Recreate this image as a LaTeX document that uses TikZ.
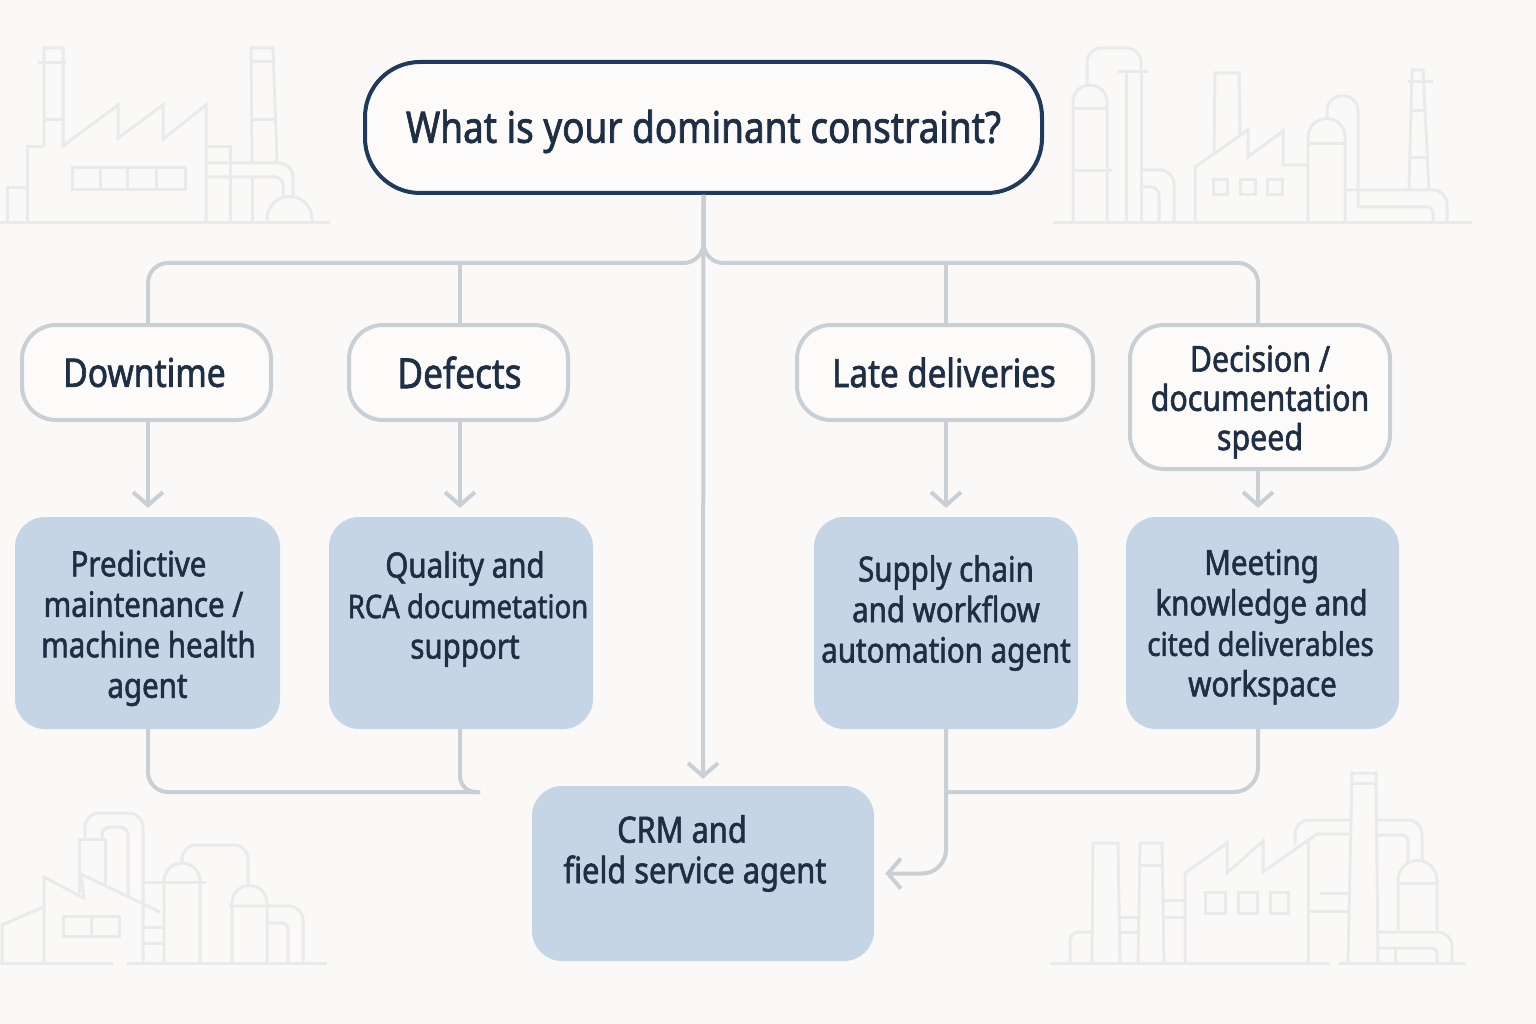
\documentclass[tikz,border=0pt]{standalone}
\usepackage{fontspec}
\setmainfont{Noto Sans}[FakeBold=1.6,FakeStretch=0.85]
\usetikzlibrary{arrows.meta,calc}
\definecolor{paper}{HTML}{FAF9F7}
\definecolor{navy}{HTML}{1F3A5C}
\definecolor{ink}{HTML}{1E2F45}
\definecolor{linegray}{HTML}{C9D0D5}
\definecolor{blueface}{HTML}{C5D5E5}
\definecolor{sketch}{HTML}{E9EAEA}
\definecolor{whiteface}{HTML}{FCFBFA}
\newcommand{\Ln}[2]{\mbox{\kern#1pt #2\kern-#1pt}}
\newcommand{\Sz}[1]{\fontsize{#1}{40}\selectfont}
\tikzset{
  x=1pt,y=-1pt,
  sk/.style={draw=sketch,line width=3pt,rounded corners=0pt,line join=miter},
  skr/.style={sk,rounded corners=14pt},
  titlebox/.style={draw=navy,line width=4pt,fill=whiteface,rounded corners=55pt,inner sep=0pt},
  askbox/.style={draw=linegray,line width=4pt,fill=whiteface,rounded corners=34pt,inner sep=0pt},
  agentbox/.style={fill=blueface,rounded corners=30pt,inner sep=0pt},
  agenttext/.style={text=ink,align=center,font=\fontsize{34.7}{40.5}\selectfont,inner sep=0pt},
  conn/.style={draw=linegray,line width=4pt,rounded corners=20pt},
  arr/.style={conn,-{Straight Barb[length=13pt,width=30pt,line width=4pt]}},
}
\begin{document}
\begin{tikzpicture}
\useasboundingbox (0,0) rectangle (1536,1024);
\fill[paper] (0,0) rectangle (1536,1024);

% factory top left
\draw[sk] (0,223) -- (330,223);
\draw[sk] (7,223) -- (7,188) -- (27,188);
\draw[sk] (27,223) -- (27,147) -- (44,147);
\draw[sk] (44,146) -- (44,48) -- (63,48) -- (63,146) -- (118,105) -- (118,138) -- (163,105) -- (163,139) -- (206,105) -- (206,223);
\draw[sk] (38,63) -- (66,63) (44,120) -- (63,120);
\draw[sk] (72,168) rectangle (185,190) (100,168) -- (100,190) (127,168) -- (127,190) (156,168) -- (156,190);
\draw[sk] (206,147) -- (230,147) -- (230,223);
\draw[sk] (252,163) -- (251,48) -- (273,48) -- (277,163);
\draw[sk] (251,62) -- (273,62) (253,120) -- (275,120) (252,177) -- (252,223);
\draw[skr] (206,163) -- (293,163) -- (293,197);
\draw[sk,rounded corners=8pt] (206,177) -- (283,177) -- (283,197);
\draw[sk] (267,223) -- (267,219) arc[start angle=180,end angle=360,radius=22.5] -- (312,223);

% factory top right
\draw[sk] (1053,223) -- (1472,223);
\draw[sk] (1073,223) -- (1073,102) arc[start angle=180,end angle=360,radius=17] -- (1107,223);
\draw[sk] (1073,109) -- (1107,109) (1073,171) -- (1112,171);
\draw[skr] (1087,85) -- (1087,48) -- (1141,48) -- (1141,72);
\draw[sk] (1118,72) -- (1148,72) (1126,72) -- (1126,223) (1141,72) -- (1141,223);
\draw[skr] (1141,170) -- (1174,170) -- (1174,223);
\draw[sk,rounded corners=8pt] (1141,187) -- (1159,187) -- (1159,223);
\draw[sk] (1214,152) -- (1215,73) -- (1239,73) -- (1240,135);
\draw[sk] (1195,223) -- (1195,167) -- (1248,130) -- (1248,157) -- (1283,131) -- (1283,165) -- (1307,165);
\draw[sk] (1213,180) rectangle (1227,195) (1240,180) rectangle (1255,195) (1267,180) rectangle (1282,195);
\draw[sk] (1308,223) -- (1308,137) arc[start angle=180,end angle=360,radius=18.5] -- (1345,223);
\draw[sk] (1308,144) -- (1345,144);
\draw[skr] (1327,119) -- (1327,96) -- (1358,96) -- (1358,207);
\draw[sk,rounded corners=5pt] (1358,207) -- (1433,207) -- (1433,223);
\draw[skr] (1345,190) -- (1447,190) -- (1447,223);
\draw[sk] (1409,190) -- (1412,70) -- (1423,70) -- (1429,190);
\draw[sk] (1408,82) -- (1433,82) (1411,111) -- (1425,111) (1410,158) -- (1428,158);

% factory bottom left
\draw[sk] (0,963) -- (113,963) (127,963) -- (327,963);
\draw[sk] (2,963) -- (2,925) -- (43,907);
\draw[sk] (44,963) -- (44,877) -- (84,898) -- (81,874) -- (160,912);
\draw[sk] (79,893) -- (79,839) -- (105,839) -- (105,885);
\draw[skr] (85,839) -- (85,813) -- (143,813) -- (143,963);
\draw[sk,rounded corners=8pt] (102,839) -- (102,827) -- (128,827) -- (128,897);
\draw[sk] (143,882) -- (206,882) (143,927) -- (164,927) (143,943) -- (164,943);
\draw[sk] (164,963) -- (164,881) arc[start angle=180,end angle=360,radius=18] -- (200,963);
\draw[skr] (182,863) -- (182,845) -- (248,845) -- (248,885);
\draw[sk] (232,963) -- (232,903) arc[start angle=180,end angle=360,radius=17.5] -- (267,963);
\draw[skr] (229,906) -- (303,906) -- (303,963);
\draw[sk,rounded corners=6pt] (267,923) -- (288,923) -- (288,963);
\draw[sk] (63,916) rectangle (119,936) (91,916) -- (91,936);

% factory bottom right
\draw[sk] (1050,963) -- (1330,963) (1339,963) -- (1466,963);
\draw[sk] (1092,963) -- (1093,843) -- (1118,843) -- (1120,963);
\draw[sk,rounded corners=9pt] (1070,963) -- (1070,932) -- (1093,932);
\draw[sk] (1138,963) -- (1140,843) -- (1162,843) -- (1164,963);
\draw[sk] (1140,865) -- (1162,865) (1120,917) -- (1138,917) (1120,932) -- (1138,932) (1164,900) -- (1184,900) (1164,917) -- (1184,917);
\draw[sk] (1185,963) -- (1185,873) -- (1227,843) -- (1227,873) -- (1263,841) -- (1263,872) -- (1317,834) -- (1349,834);
\draw[sk] (1308,840) -- (1308,963);
\draw[sk] (1205,892) rectangle (1225,913) (1238,892) rectangle (1257,913) (1270,892) rectangle (1288,913);
\draw[sk] (1320,893) -- (1349,893) (1308,911) -- (1349,911);
\draw[sk] (1348,963) -- (1352,773) -- (1376,773) -- (1378,963);
\draw[sk] (1352,783) -- (1376,783);
\draw[skr] (1295,845) -- (1295,820) -- (1352,820) (1376,820) -- (1422,820) -- (1422,860);
\draw[sk,rounded corners=6pt] (1376,835) -- (1408,835) -- (1408,862);
\draw[sk] (1398,930) -- (1398,880) arc[start angle=180,end angle=360,radius=19.5] -- (1437,930);
\draw[sk] (1398,883) -- (1437,883);
\draw[skr] (1378,932) -- (1452,932) -- (1452,963);
\draw[sk,rounded corners=5pt] (1378,948) -- (1437,948) -- (1437,963);
\draw[sk] (1395,948) -- (1395,963);

% nodes
\node[titlebox,minimum width=677pt,minimum height=131pt,
  label={[agenttext,yshift=-4pt,font=\fontsize{43.4}{48}\selectfont]center:What is your dominant constraint?}] (title) at (703.5,127.5) {};
\node[askbox,minimum width=249pt,minimum height=95pt,
  label={[agenttext,xshift=-2pt,font=\fontsize{39.5}{40}\selectfont]center:Downtime}] (downtime) at (146.5,372.5) {};
\node[askbox,minimum width=219pt,minimum height=95pt,
  label={[agenttext,xshift=1pt,font=\fontsize{41.5}{40}\selectfont]center:Defects}] (defects) at (458.5,372.5) {};
\node[askbox,minimum width=296pt,minimum height=95pt,
  label={[agenttext,xshift=-1pt,font=\fontsize{39}{40}\selectfont]center:Late deliveries}] (late) at (945,372.5) {};
\node[askbox,minimum width=260pt,minimum height=144pt,
  label={[agenttext,yshift=-5pt,font=\fontsize{35.7}{39.2}\selectfont]center:{Decision /\\documentation\\speed}}] (decision) at (1260,397) {};

\node[agentbox,minimum width=265pt,minimum height=212pt,
  label={[agenttext,yshift=-5pt]center:{\Ln{-9}{Predictive}\\\Ln{-4}{maintenance /}\\\Ln{1}{machine health}\\agent}}] (predictive) at (147.5,623) {};
\node[agentbox,minimum width=264pt,minimum height=212pt,
  label={[agenttext,yshift=14pt]center:{\Ln{4}{Quality and}\\\Ln{7}{\Sz{32.4}RCA documetation}\\\Ln{4}{support}}}] (quality) at (461,623) {};
\node[agentbox,minimum width=264pt,minimum height=212pt,
  label={[agenttext,yshift=10pt]center:{Supply chain\\and workflow\\automation agent}}] (supply) at (946,623) {};
\node[agentbox,minimum width=273pt,minimum height=212pt,
  label={[agenttext,yshift=-4pt]center:{\Ln{-1}{Meeting}\\\Ln{-1}{knowledge and}\\\Ln{-2}{\Sz{32.6}cited deliverables}\\workspace}}] (meeting) at (1262.5,623) {};
\node[agentbox,minimum width=342pt,minimum height=175pt,
  label={[agenttext,yshift=20pt,font=\fontsize{36.2}{40.5}\selectfont]center:{\Ln{-21}{CRM and}\\\Ln{-8}{field service agent}}}] (crm) at (703,873.5) {};

% connectors
\coordinate (xa) at (148,0);
\coordinate (xb) at (460,0);
\coordinate (xc) at (946,0);
\coordinate (xd) at (1258,0);
\coordinate (busy) at (0,263);
\coordinate (loy) at (0,792);
\coordinate (tailL) at (480,792);

\draw[conn] (title.south) -- (title.south |- busy) -- (xa |- busy) -- (downtime.north -| xa);
\draw[conn] (title.south) -- (title.south |- busy) -- (xd |- busy) -- (decision.north -| xd);
\draw[conn] (xb |- busy) -- (defects.north -| xb);
\draw[conn] (xc |- busy) -- (late.north -| xc);
\draw[arr,shorten >=7pt] (title.south) -- (crm.north);

\draw[arr,shorten >=9pt] (downtime.south -| xa) -- (predictive.north -| xa);
\draw[arr,shorten >=9pt] (defects.south -| xb) -- (quality.north -| xb);
\draw[arr,shorten >=9pt] (late.south -| xc) -- (supply.north -| xc);
\draw[arr,shorten >=9pt] (decision.south -| xd) -- (meeting.north -| xd);

\draw[conn] (predictive.south -| xa) -- (xa |- loy) -- (tailL);
\draw[conn,rounded corners=16pt] (quality.south -| xb) -- (xb |- loy) -- (tailL);
\draw[arr,rounded corners=24pt,shorten >=11pt] (supply.south -| xc) -- (xc |- crm.east) -- (crm.east);
\draw[conn,rounded corners=24pt] (meeting.south -| xd) -- (xd |- loy) -- (xc |- loy);
\end{tikzpicture}
\end{document}
